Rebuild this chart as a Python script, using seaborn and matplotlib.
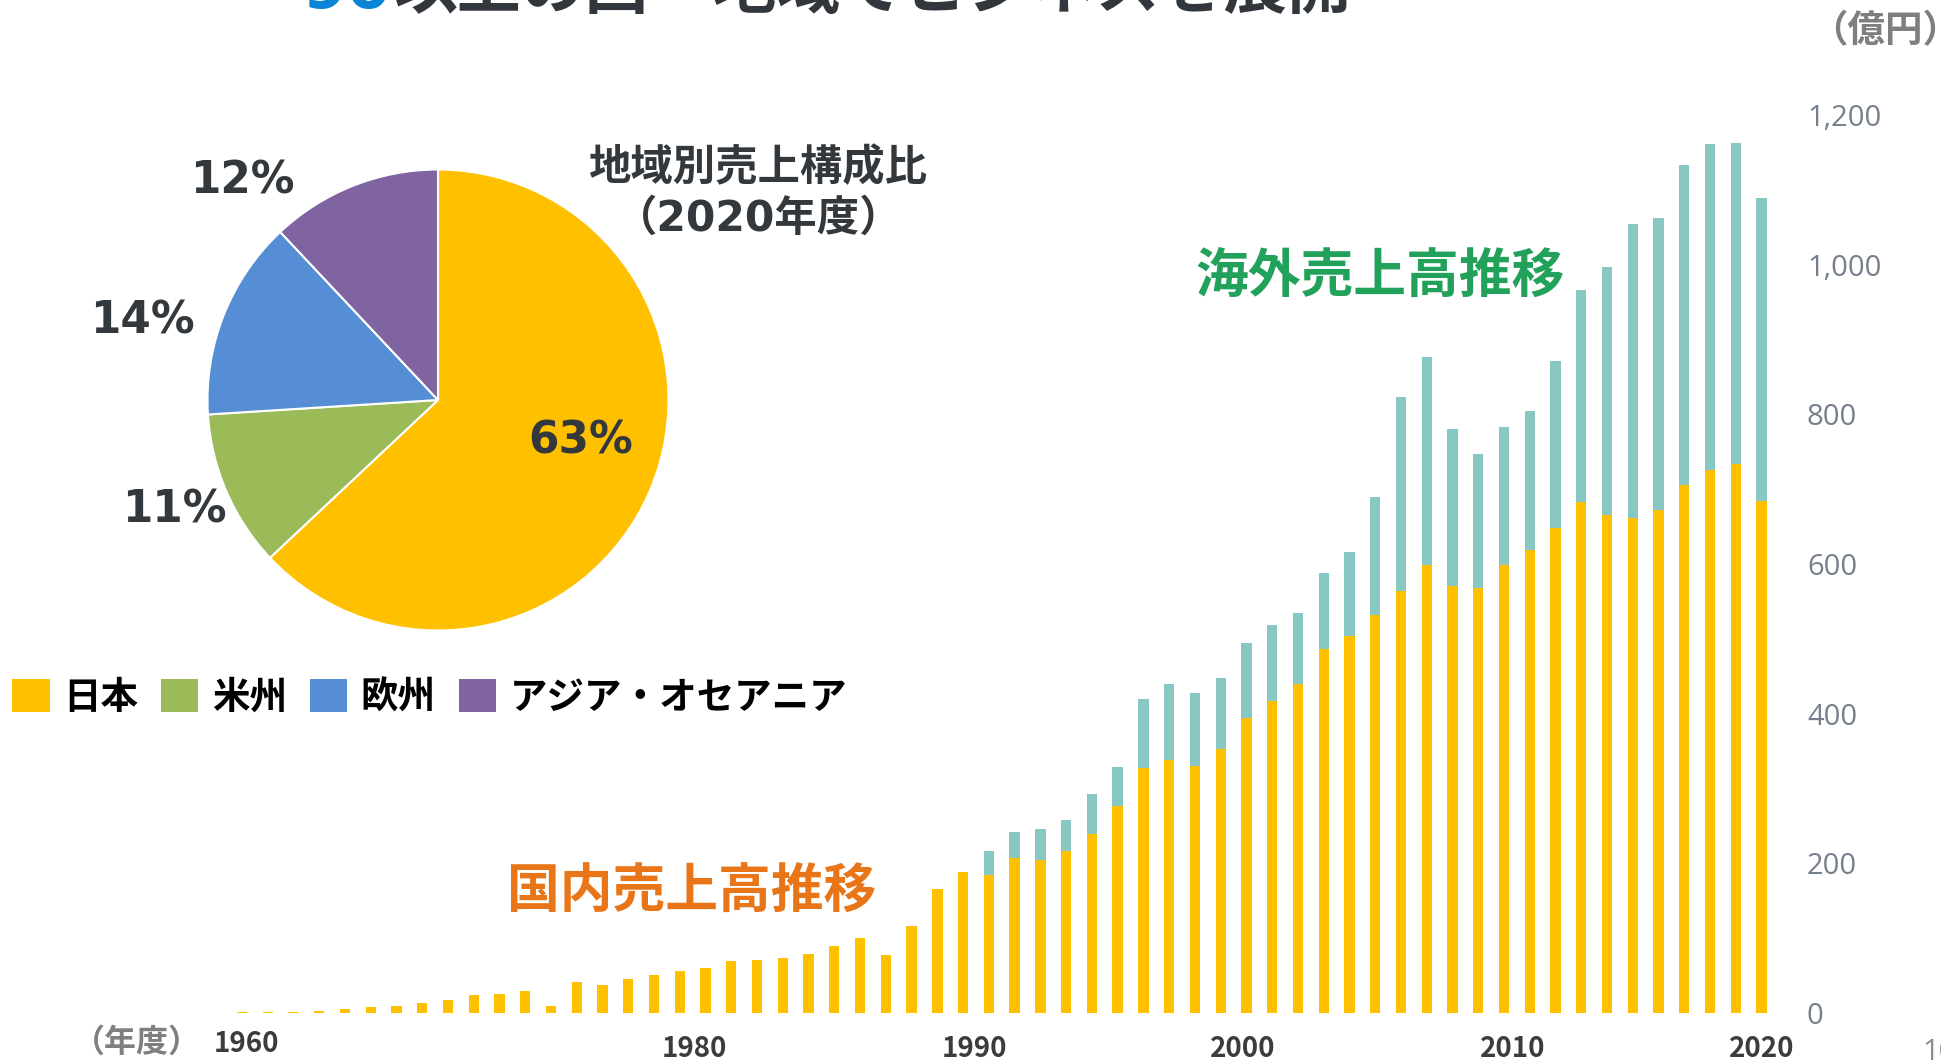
import numpy as np
import pandas as pd
import matplotlib
matplotlib.use("Agg")
import matplotlib.pyplot as plt
import matplotlib.transforms as mtransforms
from matplotlib.patches import Patch
import seaborn as sns

# ---------------- data ----------------
years = list(range(1961, 2021))
domestic = [1, 1, 2, 3, 5, 8, 10, 13, 18, 24,
            25, 30, 9, 41, 38, 45, 51, 56, 60, 70,
            71, 74, 79, 90, 100, 77, 116, 166, 189, 184,
            207, 204, 217, 239, 276, 328, 338, 330, 353, 394,
            417, 440, 486, 504, 532, 564, 598, 571, 568, 598,
            619, 648, 683, 666, 661, 672, 705, 725, 733, 684]
overseas = [0, 0, 0, 0, 0, 0, 0, 0, 0, 0,
            0, 0, 0, 0, 0, 0, 0, 0, 0, 0,
            0, 0, 0, 0, 0, 0, 0, 0, 0, 33,
            35, 42, 41, 53, 53, 92, 102, 98, 94, 101,
            101, 94, 102, 112, 158, 259, 279, 209, 179, 185,
            186, 223, 283, 331, 393, 390, 428, 436, 430, 405]

regions = ["日本", "米州", "欧州", "アジア・オセアニア"]
shares = [63, 11, 14, 12]
region_colors = ["#FFC000", "#9BBB59", "#558ED5", "#8064A2"]

x_labels = ["1960", "1980", "1990", "2000", "2010", "2020"]
x_label_pos = [0.19, 17.55, 28.43, 38.87, 49.32, 59.0]
y_ticks = [0, 200, 400, 600, 800, 1000, 1200]

# ---------------- style ----------------
W, H = 1941, 1061
sns.set_theme(style="white")
plt.rcParams["font.family"] = ["DejaVu Sans", "Noto Sans CJK JP"]
CJK = ["Noto Sans CJK JP", "DejaVu Sans"]
LAT = ["DejaVu Sans", "Noto Sans CJK JP"]
DARK = "#33383D"
YELLOW = "#FFC000"
TEAL = "#87C8C2"

fig = plt.figure(figsize=(W / 100, H / 100), dpi=100)
fig.patch.set_facecolor("white")


def fx(px):
    return px / W


def fy(py):
    return 1 - py / H


# ---------------- bar chart ----------------
ax = fig.add_axes([fx(226.5), fy(1013), (1777 - 226.5) / W, (1013 - 115) / H])
df = pd.DataFrame({
    "year": [str(y) for y in years],
    "domestic": domestic,
    "total": np.add(domestic, overseas),
})
sns.barplot(data=df, x="year", y="total", color=TEAL, saturation=1,
            width=0.4, errorbar=None, linewidth=0, ax=ax)
sns.barplot(data=df, x="year", y="domestic", color=YELLOW, saturation=1,
            width=0.4, errorbar=None, linewidth=0, ax=ax)
ax.set_xlim(-0.6, 59.6)
ax.set_ylim(0, 1200)
ax.set_xlabel("")
ax.set_ylabel("")
ax.set_xticks([])
ax.yaxis.tick_right()
ax.set_yticks(y_ticks)
ax.set_yticklabels([f"{v:,}" for v in y_ticks], family="Open Sans",
                   fontsize=21, color="#76808C")
ax.tick_params(axis="y", length=0, pad=21.6)
for s in ax.spines.values():
    s.set_visible(False)
ax.set_facecolor("none")

trans = mtransforms.blended_transform_factory(ax.transData, fig.transFigure)
label_y_px = [1044, 1049, 1049, 1049, 1049, 1049]
for lab, pos, ypx in zip(x_labels, x_label_pos, label_y_px):
    ax.text(pos, fy(ypx), lab, transform=trans, ha="center", va="center",
            fontsize=20, fontweight="bold", family=CJK, color="#3C3C3C",
            clip_on=False)

# ---------------- pie chart ----------------
cx, cy, r = 438, 400, 230.5
ax_pie = fig.add_axes([fx(cx - r), fy(cy + r), 2 * r / W, 2 * r / H])
ax_pie.pie(shares, colors=region_colors, startangle=90, counterclock=False,
           wedgeprops=dict(edgecolor="white", linewidth=1.5))
ax_pie.set_xlim(-1, 1)
ax_pie.set_ylim(-1, 1)
ax_pie.set_aspect("equal")
ax_pie.axis("off")

pct_pos = [(581, 441), (174, 510), (142, 321), (242, 181)]
for s, (px, py) in zip(shares, pct_pos):
    fig.text(fx(px), fy(py), f"{s}%", ha="center", va="center", fontsize=31.5,
             fontweight="bold", family=LAT, color=DARK)

fig.text(fx(758), fy(168), "地域別売上構成比", ha="center", va="center",
         fontsize=30.5, fontweight="bold", family=CJK, color=DARK)
fig.text(fx(759), fy(219), "（2020年度）", ha="center", va="center",
         fontsize=30.5, fontweight="bold", family=LAT, color=DARK)

# legend
handles = [Patch(facecolor=c, edgecolor="none") for c in region_colors]
fig.legend(handles, regions, loc="center left", bbox_to_anchor=(fx(12), fy(697)),
           ncol=4, frameon=False, handlelength=1.0, handleheight=1.0,
           handletextpad=0.36, columnspacing=0.61, borderpad=0, borderaxespad=0,
           labelcolor="black",
           prop={"family": CJK, "weight": "bold", "size": 27})

# ---------------- annotations ----------------
fig.text(fx(1380), fy(276), "海外売上高推移", ha="center", va="center",
         fontsize=38, fontweight="bold", family=CJK, color="#21A159")
fig.text(fx(692), fy(892.5), "国内売上高推移", ha="center", va="center",
         fontsize=38, fontweight="bold", family=CJK, color="#E87518")

fig.text(fx(1885), fy(31), "（億円）", ha="center", va="center",
         fontsize=27, fontweight="bold", family=CJK, color="#7F7F7F")
fig.text(fx(137), fy(1043), "（年度）", ha="center", va="center",
         fontsize=23, fontweight="bold", family=CJK, color="#7F7F7F")

# title (cut off at top edge in the reference)
fig.text(fx(392), fy(8), "90", ha="right", va="baseline", fontsize=46,
         fontweight="bold", family=LAT, color="#0A84D6")
fig.text(fx(393), fy(8), "以上の国・地域でビジネスを展開", ha="left",
         va="baseline", fontsize=46, fontweight="bold", family=CJK,
         color="#31373D")

fig.text(fx(1922), fy(1052), "10", ha="left", va="center", fontsize=21,
         family="Open Sans", color="#8C8C8C")

fig.savefig("out.png", dpi=100)
